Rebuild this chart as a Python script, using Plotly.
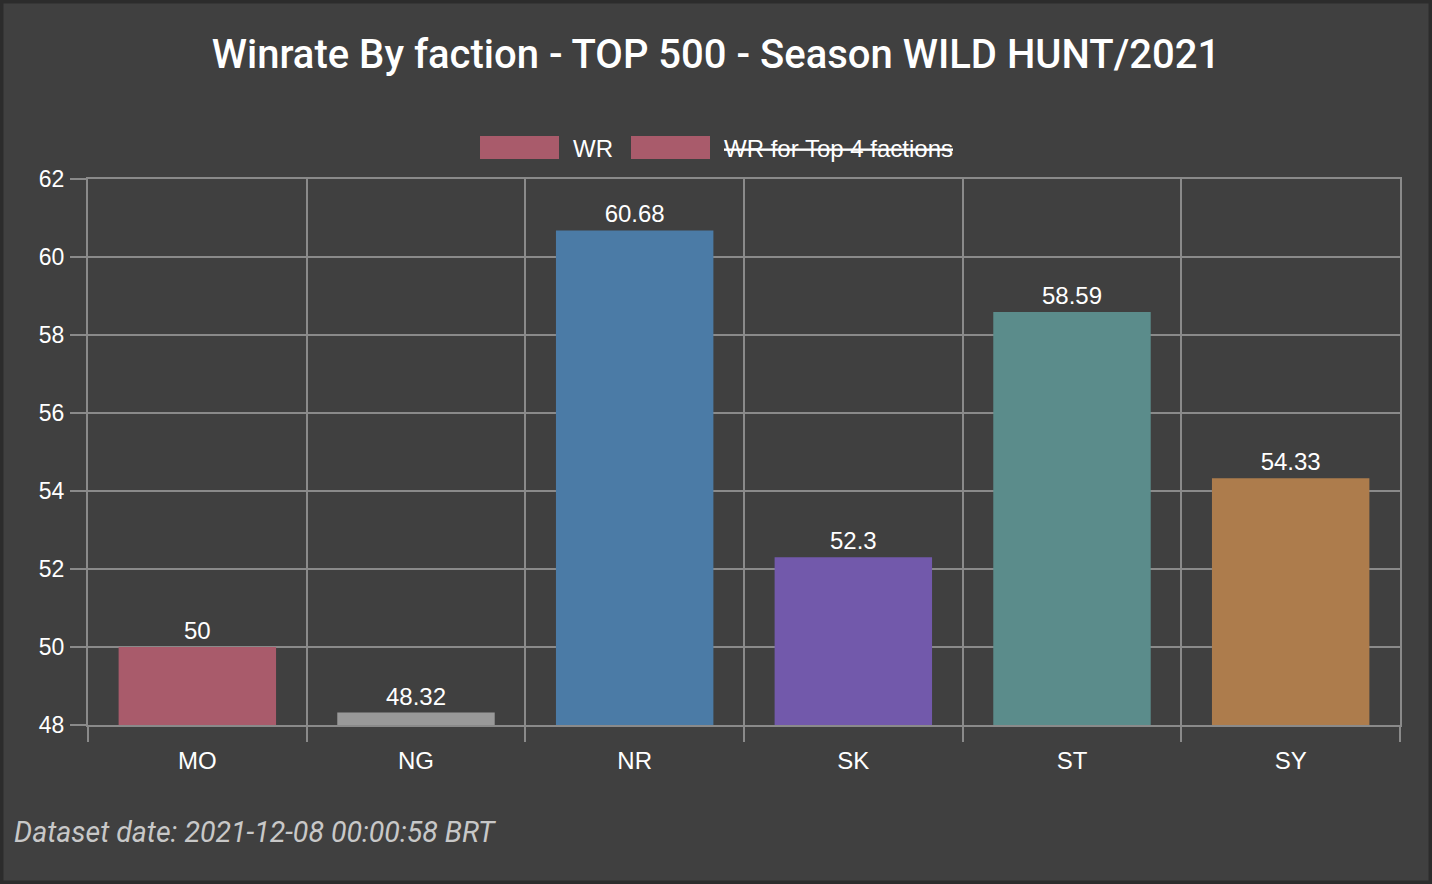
import plotly.graph_objects as go

factions = ["MO", "NG", "NR", "SK", "ST", "SY"]
winrates = [50, 48.32, 60.68, 52.3, 58.59, 54.33]
colors = ["#a95b6b", "#999999", "#4b7ba6", "#7259ab", "#5b8c8b", "#ad7c4c"]
legend_names = ["WR", "<s>WR for Top 4 factions</s>"]
legend_color = "#a95b6b"
y_ticks = [48, 50, 52, 54, 56, 58, 60, 62]

W, H = 1432, 884
ML, MR, MT, MB = 88, 32, 179, 159
BG = "#404040"
GRID = "#8a8a8a"

fig = go.Figure()
fig.add_trace(go.Bar(
    x=factions, y=winrates,
    marker=dict(color=colors, line=dict(width=0)),
    text=[f"{v:g}" for v in winrates],
    textposition="outside",
    textfont=dict(family="Liberation Sans", size=24, color="#ffffff"),
    cliponaxis=False,
    showlegend=False,
    hoverinfo="x+y",
))

def px2x(p):
    return (p - ML) / (W - ML - MR)

def px2y(p):
    return 1 - (p - MT) / (H - MT - MB)

shapes = []
annotations = []
# manual legend (Chart.js style)
sw_x = [480, 631]
txt_x = [571, 722]
for i, name in enumerate(legend_names):
    shapes.append(dict(type="rect", xref="paper", yref="paper",
                       x0=px2x(sw_x[i]), x1=px2x(sw_x[i] + 79),
                       y0=px2y(159), y1=px2y(136),
                       fillcolor=legend_color, line=dict(width=0)))
    annotations.append(dict(text=name, xref="paper", yref="paper",
                            x=px2x(txt_x[i]), y=px2y(148), xanchor="left", yanchor="middle",
                            showarrow=False,
                            font=dict(family="Liberation Sans", size=24, color="#ffffff")))
# footer
annotations.append(dict(text="<i>Dataset date: 2021-12-08 00:00:58 BRT</i>",
                        xref="paper", yref="paper", x=px2x(12), y=px2y(832),
                        xanchor="left", yanchor="middle", showarrow=False,
                        font=dict(family="Roboto", size=28.5, color="#c8c8c8")))
# outer border
shapes.append(dict(type="rect", xref="paper", yref="paper",
                   x0=px2x(1.5), x1=px2x(W - 1.5), y0=px2y(H - 1.5), y1=px2y(1.5),
                   line=dict(color="#2c2c2c", width=4), fillcolor="rgba(0,0,0,0)", layer="below"))

fig.update_layout(
    width=W, height=H,
    margin=dict(l=ML, r=MR, t=MT, b=MB),
    paper_bgcolor=BG, plot_bgcolor=BG,
    title=dict(text="Winrate By faction - TOP 500 - Season WILD HUNT/2021",
               x=0.5, xref="container", xanchor="center", y=1 - 54 / H, yanchor="middle",
               font=dict(family="Roboto", size=40, weight=500, color="#ffffff")),
    bargap=0.28,
    shapes=shapes,
    annotations=annotations,
    xaxis=dict(type="category", tickson="boundaries", ticks="outside", ticklen=15,
               tickcolor=GRID, tickwidth=2, showgrid=True, gridcolor=GRID, gridwidth=2,
               showline=True, linecolor=GRID, linewidth=2, mirror=True, zeroline=False,
               ticklabelstandoff=13,
               tickfont=dict(family="Liberation Sans", size=24, color="#ffffff")),
    yaxis=dict(range=[48, 62], tickvals=y_ticks, ticks="outside", ticklen=16,
               tickcolor=GRID, tickwidth=2, showgrid=True, gridcolor=GRID, gridwidth=2,
               showline=True, linecolor=GRID, linewidth=2, mirror=True,
               zeroline=False, ticklabelstandoff=1,
               tickfont=dict(family="Liberation Sans", size=23, color="#ffffff")),
)

fig.write_html("out.html")
